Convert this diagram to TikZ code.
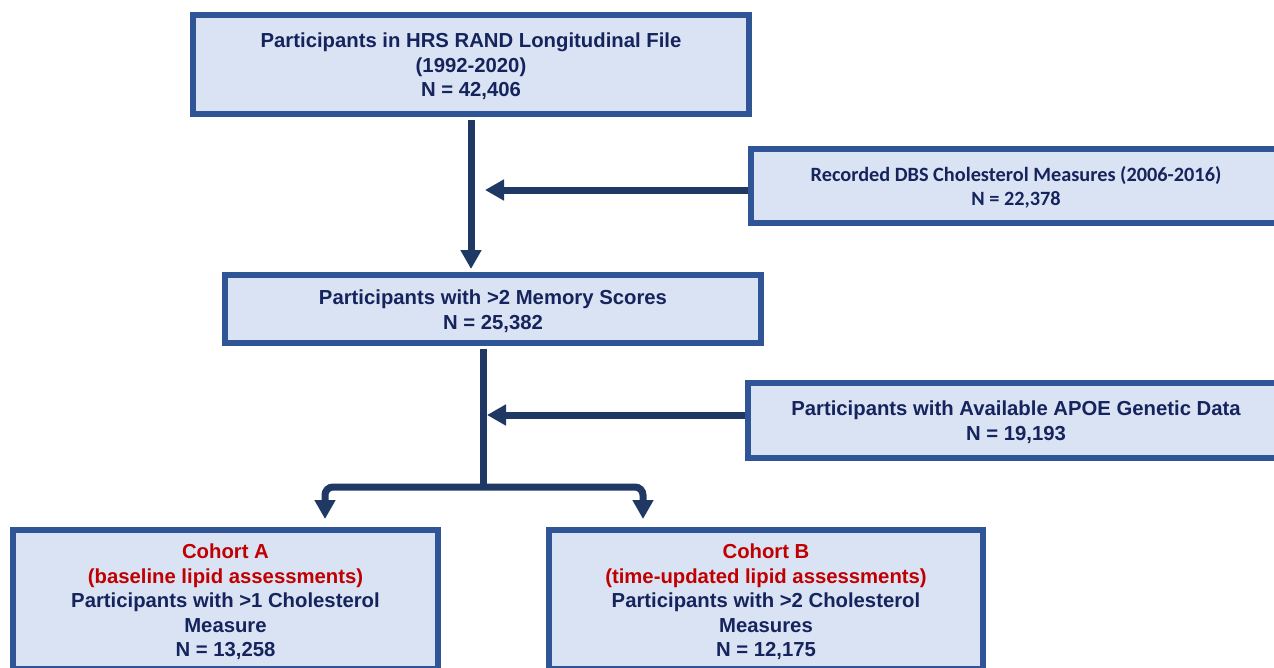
\documentclass[tikz,border=0pt]{standalone}
\usepackage{fontspec}
\setmainfont{Liberation Sans}
\newfontfamily\calib{Carlito}
\usetikzlibrary{arrows.meta}
\definecolor{boxfill}{HTML}{DAE3F3}
\definecolor{boxline}{HTML}{2F5597}
\definecolor{arrowc}{HTML}{203864}
\definecolor{txt}{HTML}{16245E}
\definecolor{redtxt}{HTML}{C00000}
\tikzset{
  box/.style={draw=boxline, fill=boxfill, line width=6pt, inner sep=0pt,
    align=center, text=txt, font=\fontsize{20.3}{24.6}\selectfont\bfseries},
  flowline/.style={draw=arrowc, line width=7pt},
  arr/.style={flowline, -{Triangle[width=20pt,length=19pt]}},
}
\begin{document}
\begin{tikzpicture}[x=1pt,y=-1pt]
\useasboundingbox[fill=white] (0,0) rectangle (1274,667);
\node[box, minimum width=556pt, minimum height=99pt] (top) at (471,64.5) {};
\node[box, minimum width=530pt, minimum height=74pt] (dbs) at (1016,186) {};
\node[box, minimum width=536pt, minimum height=68pt] (mid) at (493,309) {};
\node[box, minimum width=536pt, minimum height=75pt] (apoe) at (1016,420.5) {};
\node[box, minimum width=425pt, minimum height=139pt] (ca) at (225.5,599.5) {};
\node[box, minimum width=434pt, minimum height=139pt] (cb) at (766,599.5) {};
\node[box, draw=none, fill=none, anchor=center] (toptext) at (471,66.5)
  {Participants in HRS RAND Longitudinal File\\(1992-2020)\\N = 42,406};
\node[box, draw=none, fill=none, font=\fontsize{20.3}{24}\selectfont\calib\bfseries] (dbstext) at (1016,187)
  {Recorded DBS Cholesterol Measures (2006-2016)\\N = 22,378};
\node[box, draw=none, fill=none] (midtext) at (493,311)
  {Participants with >2 Memory Scores\\N = 25,382};
\node[box, draw=none, fill=none] (apoetext) at (1016,422.5)
  {Participants with Available APOE Genetic Data\\N = 19,193};
\node[box, draw=none, fill=none] (catext) at (225.5,602)
  {\textcolor{redtxt}{Cohort A}\\\textcolor{redtxt}{(baseline lipid assessments)}\\Participants with >1 Cholesterol\\Measure\\N = 13,258};
\node[box, draw=none, fill=none] (cbtext) at (766,602)
  {\textcolor{redtxt}{Cohort B}\\\textcolor{redtxt}{(time-updated lipid assessments)}\\Participants with >2 Cholesterol\\Measures\\N = 12,175};
\coordinate (j1) at (485,190);
\coordinate (j2) at (487,415);
\coordinate (split) at (483,487);
\coordinate (la) at (325,487);
\coordinate (ra) at (643,487);
\draw[arr, shorten >=3pt] ([yshift=-3pt]top.south) -- (mid.north -| top.south);
\draw[arr] (dbs.west |- j1) -- (j1);
\draw[flowline] ([yshift=-3pt]mid.south -| split) -- ([yshift=3.5pt]split);
\draw[arr] (apoe.west |- j2) -- (j2);
\draw[arr, rounded corners=8pt, shorten >=8pt] (split) -- (la) -- (la |- ca.north);
\draw[arr, rounded corners=8pt, shorten >=8pt] (split) -- (ra) -- (ra |- cb.north);
\end{tikzpicture}
\end{document}
